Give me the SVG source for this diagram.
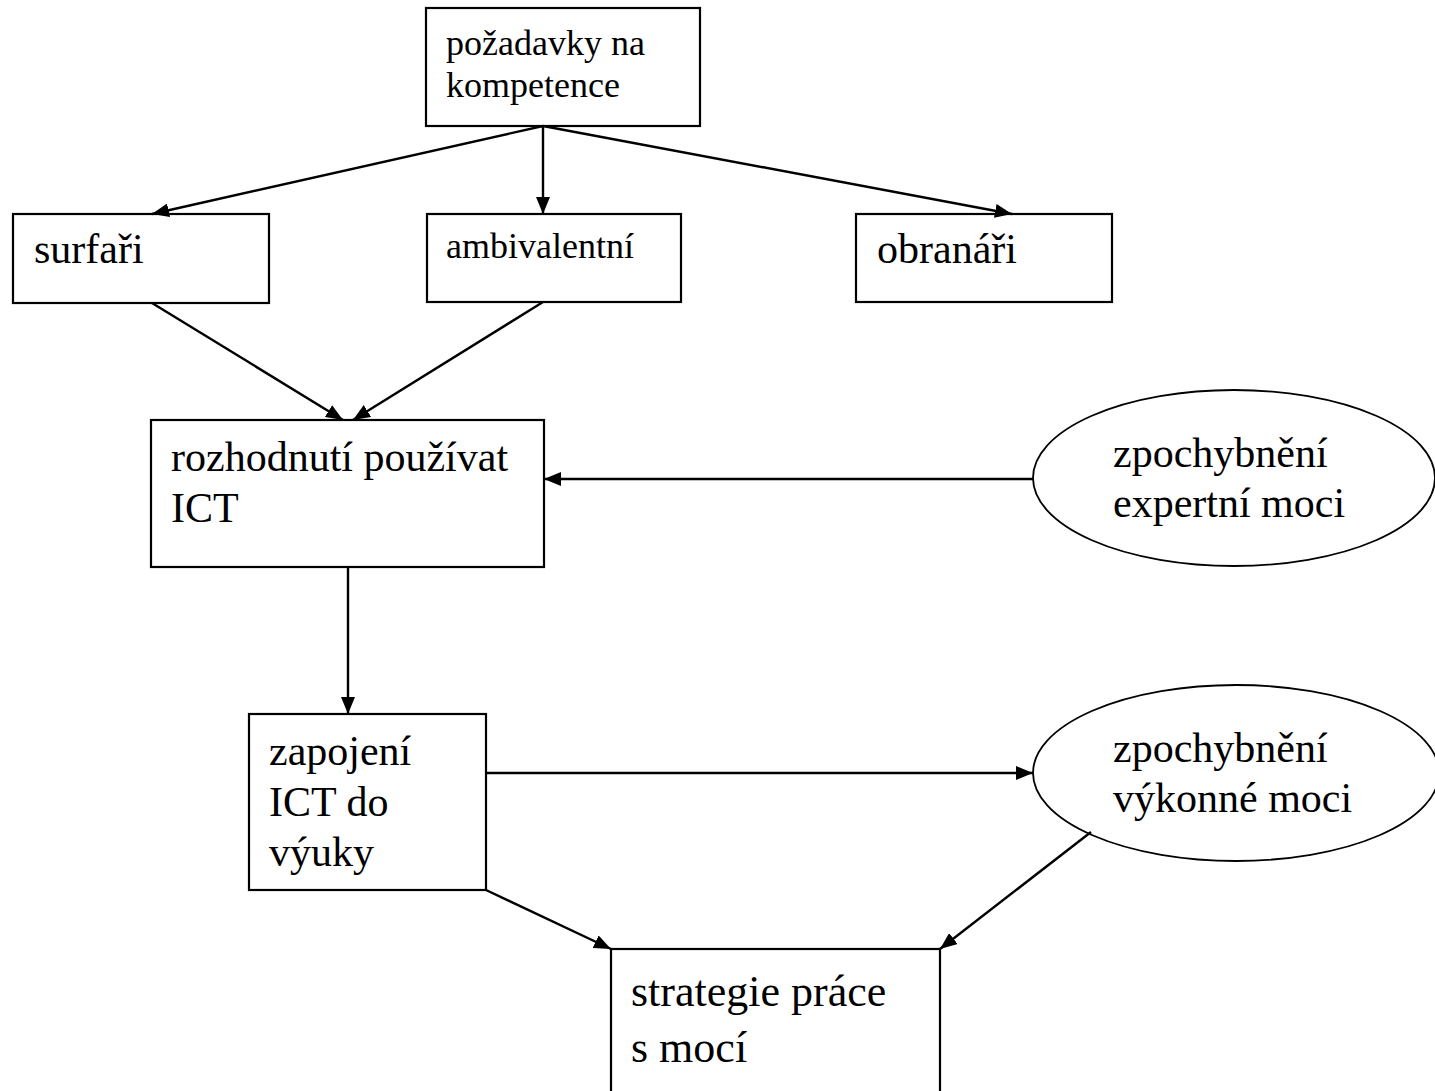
<svg xmlns="http://www.w3.org/2000/svg" width="1435" height="1091" viewBox="0 0 1435 1091">
<style>
.box{fill:#fff;stroke:#000;stroke-width:2.2}
.ell{fill:#fff;stroke:#000;stroke-width:1.8}
.t{font-family:"Liberation Serif","Times New Roman",serif;fill:#000;font-size:42px}
.s{font-size:36px}
.l{font-size:44px}
.c{fill:none;stroke:#000;stroke-width:2.4}
</style>
<defs>
<marker id="ah" viewBox="0 0 17 14" refX="17" refY="7" markerWidth="17" markerHeight="14" markerUnits="userSpaceOnUse" orient="auto">
<path d="M0,0 L17,7 L0,14 Z" fill="#000"/>
</marker>
</defs>
<rect width="1435" height="1091" fill="#fff"/>
<g id="n-pozadavky"><rect class="box" x="426" y="8" width="274" height="118"/><text class="t s" x="446" y="55">požadavky na</text><text class="t s" x="446" y="97">kompetence</text></g>
<g id="n-surfari"><rect class="box" x="13" y="214" width="256" height="89"/><text class="t" x="34" y="263">surfaři</text></g>
<g id="n-ambivalentni"><rect class="box" x="427" y="214" width="254" height="88"/><text class="t s" x="446" y="258">ambivalentní</text></g>
<g id="n-obranari"><rect class="box" x="856" y="214" width="256" height="88"/><text class="t" x="877" y="263">obranáři</text></g>
<g id="n-rozhodnuti"><rect class="box" x="151" y="420" width="393" height="147"/><text class="t" x="171" y="471">rozhodnutí používat</text><text class="t" x="171" y="522">ICT</text></g>
<g id="n-expertni"><ellipse class="ell" cx="1234" cy="478" rx="201" ry="88"/><text class="t" x="1113" y="467">zpochybnění</text><text class="t" x="1113" y="517">expertní moci</text></g>
<g id="n-zapojeni"><rect class="box" x="249" y="714" width="237" height="176"/><text class="t" x="269" y="765">zapojení</text><text class="t" x="269" y="816">ICT do</text><text class="t" x="269" y="866">výuky</text></g>
<g id="n-vykonne"><ellipse class="ell" cx="1236" cy="773" rx="203" ry="88"/><text class="t" x="1113" y="762">zpochybnění</text><text class="t" x="1113" y="812">výkonné moci</text></g>
<g id="n-strategie"><rect class="box" x="611" y="949" width="329" height="160"/><text class="t l" x="631" y="1006">strategie práce</text><text class="t l" x="631" y="1062">s mocí</text></g>
<g id="connectors">
<line class="c" x1="543" y1="126" x2="152" y2="214" marker-end="url(#ah)"/>
<line class="c" x1="543" y1="126" x2="543" y2="214" marker-end="url(#ah)"/>
<line class="c" x1="543" y1="126" x2="1012" y2="214" marker-end="url(#ah)"/>
<line class="c" x1="152" y1="303" x2="343" y2="420" marker-end="url(#ah)"/>
<line class="c" x1="543" y1="302" x2="353" y2="420" marker-end="url(#ah)"/>
<line class="c" x1="1033" y1="479" x2="544" y2="479" marker-end="url(#ah)"/>
<line class="c" x1="348" y1="567" x2="348" y2="714" marker-end="url(#ah)"/>
<line class="c" x1="486" y1="773" x2="1033" y2="773" marker-end="url(#ah)"/>
<line class="c" x1="486" y1="890" x2="611" y2="949" marker-end="url(#ah)"/>
<line class="c" x1="1091" y1="832" x2="940" y2="949" marker-end="url(#ah)"/>
</g>
</svg>
